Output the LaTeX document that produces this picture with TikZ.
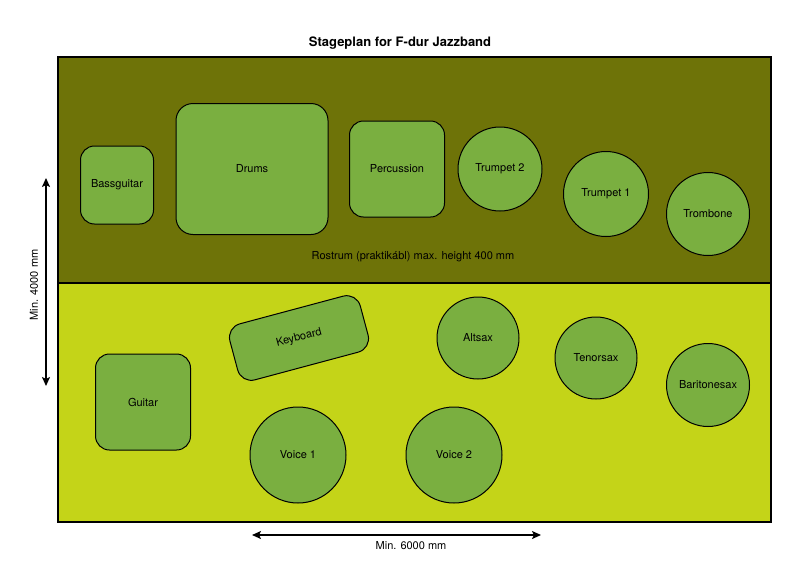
\documentclass[tikz,border=0pt]{standalone}
\usepackage{fontspec}
\setmainfont{TeX Gyre Heros}
\usetikzlibrary{arrows.meta}
\definecolor{rostrumolive}{RGB}{110,115,8}
\definecolor{stagelime}{RGB}{196,212,24}
\definecolor{podgreen}{RGB}{122,175,64}
\begin{document}
\begin{tikzpicture}[>={Stealth[length=9pt,width=8pt,inset=2pt]},x=1pt,y=-1pt,
		font=\fontsize{11}{13}\selectfont,
		pod/.style={draw,fill=podgreen,rounded corners=14pt,inner sep=0pt,line width=1pt},
		disc/.style={draw,fill=podgreen,circle,inner sep=0pt,line width=1pt}]
			\useasboundingbox (0,0) rectangle (800,565);
			% stage und rostrum
			\fill[rostrumolive] (58,57) rectangle (771,283);
			\fill[stagelime] (58,283) rectangle (771,522);
			\draw[line width=1.3pt] (58,57) rectangle (771,522);
			\draw[line width=1.6pt] (58,283) -- (771,283);
			\node[font=\fontsize{13}{15}\selectfont\bfseries] (title) at (400,43) {Stageplan for F-dur Jazzband};
			\node (riser) at (413,257) {Rostrum (praktikábl) max. height 400 mm};
			% rostrum
			\node[pod,minimum width=73pt,minimum height=78pt] (bass) at (117,185) {Bassguitar};
			\node[pod,minimum width=152pt,minimum height=131pt,rounded corners=17pt] (drums) at (252,169) {Drums};
			\node[pod,minimum width=95pt,minimum height=96pt] (perc) at (397,169) {Percussion};
			\node[disc,minimum size=84pt] (tp2) at (500,169) {Trumpet 2};
			\node[disc,minimum size=85pt] (tp1) at (606,194) {Trumpet 1};
			\node[disc,minimum size=83pt] (tb) at (708,214) {Trombone};
			% stage
			\node[pod,minimum width=95pt,minimum height=96pt] (gtr) at (143,402) {Guitar};
			\node[pod,minimum width=135pt,minimum height=58pt,rotate=15] (keys) at (299,338) {Keyboard};
			\node[disc,minimum size=82pt] (as) at (478,338) {Altsax};
			\node[disc,minimum size=82pt] (ts) at (596,358) {Tenorsax};
			\node[disc,minimum size=83pt] (bs) at (708,385) {Baritonesax};
			\node[disc,minimum size=96pt] (v1) at (298,455) {Voice 1};
			\node[disc,minimum size=96pt] (v2) at (454,455) {Voice 2};
			% masse
			\coordinate (wl) at (252,535);
			\coordinate (wr) at (541,535);
			\coordinate (dt) at (46,178);
			\coordinate (db) at (46,386);
			\draw[<->,line width=1.6pt] (wl) -- (wr);
			\draw[<->,line width=1.6pt] (dt) -- (db);
			\node (wlabel) at (411,546) {Min. 6000 mm};
			\node[rotate=90] (dlabel) at (34,285) {Min. 4000 mm};
	\end{tikzpicture}
\end{document}
